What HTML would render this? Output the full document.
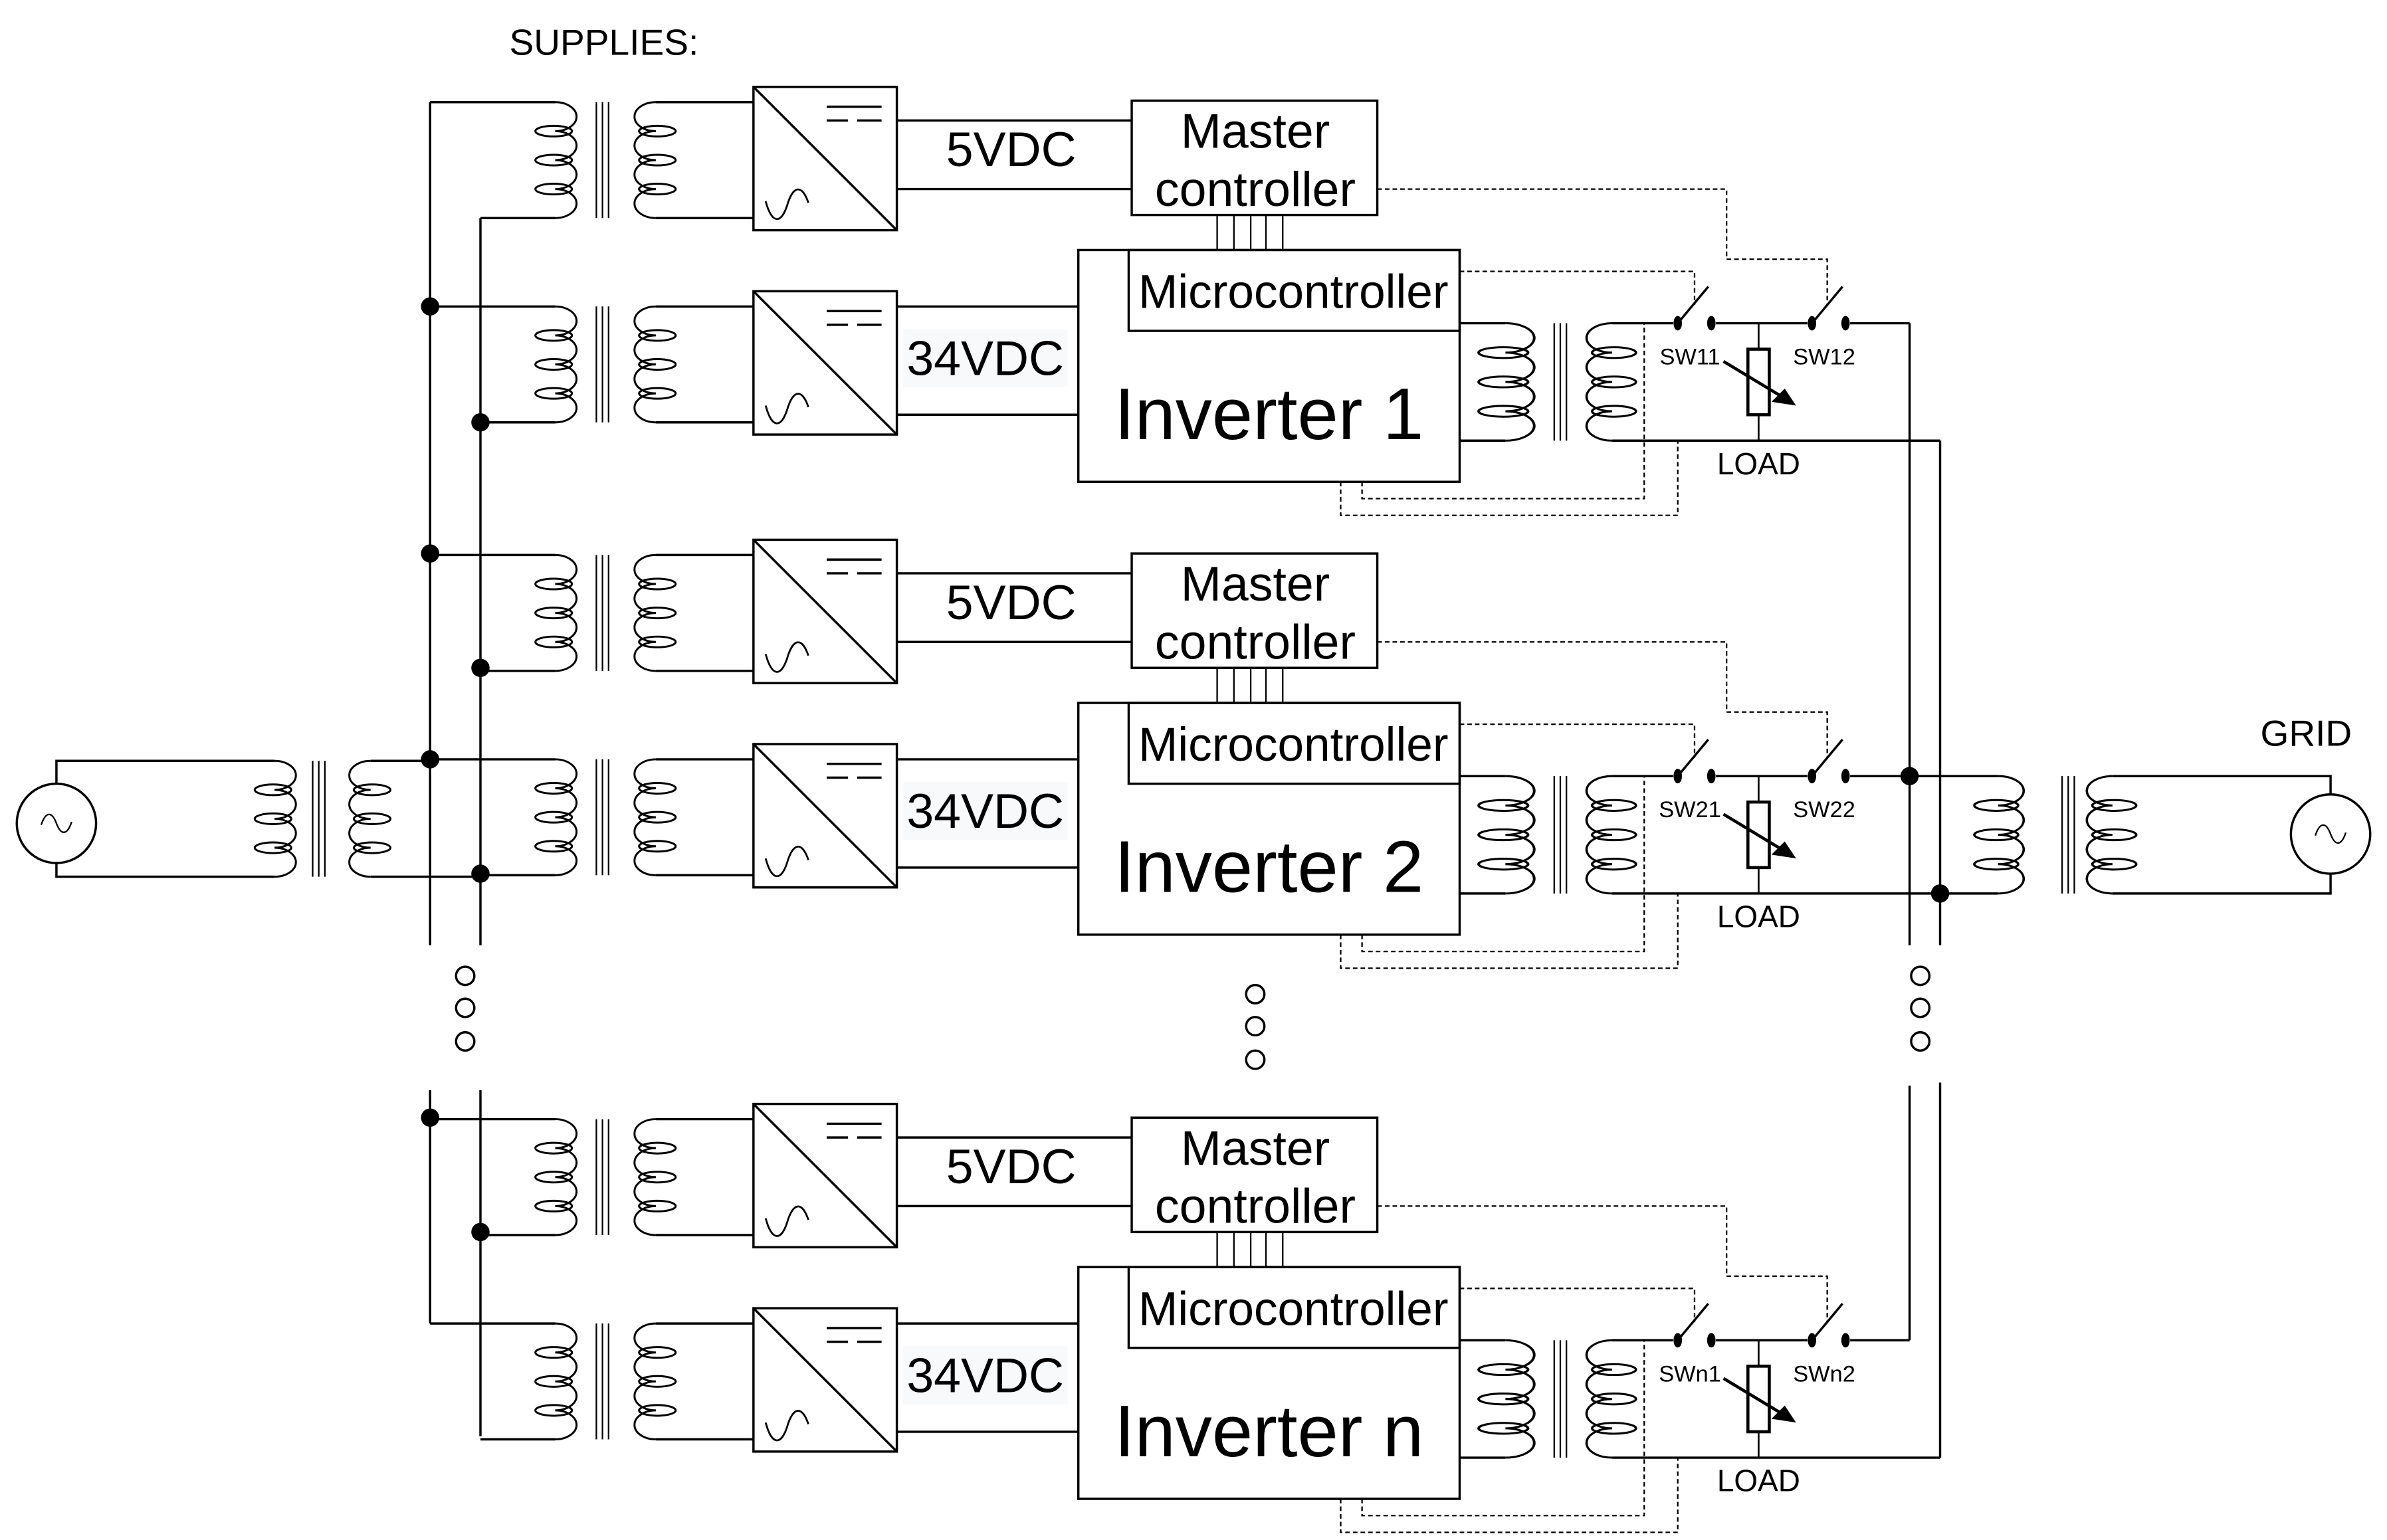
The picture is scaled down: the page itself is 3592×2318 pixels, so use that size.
<!DOCTYPE html>
<html><head><meta charset="utf-8"><style>html,body{margin:0;padding:0;background:#fff}svg{display:block}</style></head>
<body>
<svg width="3592" height="2318" viewBox="0 0 1565 1010" preserveAspectRatio="none" xmlns="http://www.w3.org/2000/svg" font-family="Liberation Sans, sans-serif">
<defs>
<g id="cr" fill="none" stroke="#000" stroke-width="1.3">
<path d="M0,0 a14,9.5 0 0 1 0,19 a14,9.5 0 0 1 0,19 a14,9.5 0 0 1 0,19 a14,9.5 0 0 1 0,19"/>
<ellipse cx="-1" cy="19" rx="12" ry="3.5"/><ellipse cx="-1" cy="38" rx="12" ry="3.5"/><ellipse cx="-1" cy="57" rx="12" ry="3.5"/>
</g>
<g id="cl" fill="none" stroke="#000" stroke-width="1.3">
<path d="M0,0 a14,9.5 0 0 0 0,19 a14,9.5 0 0 0 0,19 a14,9.5 0 0 0 0,19 a14,9.5 0 0 0 0,19"/>
<ellipse cx="1" cy="19" rx="12" ry="3.5"/><ellipse cx="1" cy="38" rx="12" ry="3.5"/><ellipse cx="1" cy="57" rx="12" ry="3.5"/>
</g>
<g id="core" stroke="#000" stroke-width="1"><line x1="0" y1="0" x2="0" y2="76"/><line x1="4" y1="0" x2="4" y2="76"/><line x1="8" y1="0" x2="8" y2="76"/></g>
<g id="conv" fill="none" stroke="#000" stroke-width="1.5">
<rect x="0" y="0" width="94" height="94"/><line x1="0" y1="0" x2="94" y2="94"/>
<line x1="48" y1="13" x2="84" y2="13"/><line x1="48" y1="22" x2="62" y2="22"/><line x1="68" y1="22" x2="84" y2="22"/>
<path d="M8,75 C12,90 18,90 22,78 C26,64 32,64 36,76" stroke-width="1.2"/>
</g>
<g id="supply" fill="none" stroke="#000" stroke-width="1.5">
<line x1="282" y1="0" x2="364" y2="0"/><line x1="315" y1="76" x2="364" y2="76"/>
<use href="#cr" x="364" y="0"/><use href="#core" x="391" y="0"/><use href="#cl" x="430" y="0"/>
<line x1="430" y1="0" x2="494" y2="0"/><line x1="430" y1="76" x2="494" y2="76"/>
<use href="#conv" x="494" y="-10"/>
</g>
<g id="blk" fill="none" stroke="#000" stroke-width="1.5">
<use href="#supply" x="0" y="67"/>
<use href="#supply" x="0" y="201"/>
<line x1="588" y1="79" x2="742" y2="79"/><line x1="588" y1="124" x2="742" y2="124"/>
<line x1="588" y1="201" x2="707" y2="201"/><line x1="588" y1="272" x2="707" y2="272"/>
<rect x="742" y="66" width="161" height="75"/>
<g stroke-width="1"><line x1="798" y1="141" x2="798" y2="164"/><line x1="809" y1="141" x2="809" y2="164"/><line x1="820" y1="141" x2="820" y2="164"/><line x1="830" y1="141" x2="830" y2="164"/><line x1="841" y1="141" x2="841" y2="164"/></g>
<rect x="707" y="164" width="250" height="152"/>
<rect x="740" y="164" width="217" height="53"/>
<line x1="957" y1="212" x2="987" y2="212"/><line x1="957" y1="289" x2="987" y2="289"/>
<use href="#cr" transform="translate(987,212) scale(1.35,1.013)"/>
<use href="#core" transform="translate(1019,212) scale(1,1.013)"/>
<use href="#cl" transform="translate(1057,212) scale(1.2,1.013)"/>
<line x1="1057" y1="212" x2="1097" y2="212"/>
<line x1="1057" y1="289" x2="1272" y2="289"/>
<ellipse cx="1100" cy="212" rx="2" ry="4" fill="#000"/><ellipse cx="1122" cy="212" rx="2" ry="4" fill="#000"/>
<line x1="1100" y1="212" x2="1120" y2="188"/>
<line x1="1125" y1="212" x2="1185" y2="212"/>
<ellipse cx="1188" cy="212" rx="2" ry="4" fill="#000"/><ellipse cx="1210" cy="212" rx="2" ry="4" fill="#000"/>
<line x1="1188" y1="212" x2="1208" y2="188"/>
<line x1="1213" y1="212" x2="1252" y2="212"/>
<line x1="1153" y1="212" x2="1153" y2="289" stroke-width="1.2"/>
<rect x="1146" y="229" width="14" height="43" fill="#fff" stroke-width="2"/>
<line x1="1130" y1="237" x2="1173" y2="263" stroke-width="2"/>
<path d="M1176,265 L1163,263 L1170,256 Z" fill="#000"/>
<g stroke-width="1" stroke-dasharray="3,2">
<path d="M903,124 H1132 V170 H1198 V200"/>
<path d="M957,178 H1111 V200"/>
<path d="M893,316 V327 H1078 V212"/>
<path d="M879,316 V338 H1100 V289"/>
</g>
</g>
</defs>

<g fill="none" stroke="#000" stroke-width="1.5">
<line x1="282" y1="67" x2="282" y2="620"/><line x1="282" y1="715" x2="282" y2="868"/>
<line x1="315" y1="143" x2="315" y2="620"/><line x1="315" y1="715" x2="315" y2="942"/>
<line x1="1252" y1="212" x2="1252" y2="620"/><line x1="1252" y1="712" x2="1252" y2="879"/>
<line x1="1272" y1="289" x2="1272" y2="620"/><line x1="1272" y1="710" x2="1272" y2="956"/>
</g>
<use href="#blk" x="0" y="0"/>
<use href="#blk" x="0" y="297"/>
<use href="#blk" x="0" y="667"/>

<g fill="none" stroke="#000" stroke-width="1.5">
<circle cx="37" cy="540" r="26"/>
<path d="M27,541 C30,532 34,532 37,540 C40,548 44,548 47,539" stroke-width="1"/>
<path d="M37,514 V499 H180"/><path d="M37,566 V575 H180"/>
<use href="#cr" x="180" y="499"/><use href="#core" x="205" y="499"/><use href="#cl" x="243" y="499"/>
<line x1="243" y1="499" x2="282" y2="499"/><line x1="243" y1="575" x2="315" y2="575"/>
<line x1="1252" y1="509" x2="1310" y2="509"/><line x1="1272" y1="586" x2="1310" y2="586"/>
<use href="#cr" transform="translate(1310,509) scale(1.2,1.013)"/><use href="#core" transform="translate(1352,509) scale(1,1.013)"/><use href="#cl" transform="translate(1385,509) scale(1.2,1.013)"/>
<path d="M1385,509 H1528 V521"/><path d="M1385,586 H1528 V573"/>
<circle cx="1528" cy="547" r="26"/>
<path d="M1518,548 C1521,539 1525,539 1528,547 C1531,555 1535,555 1538,546" stroke-width="1"/>
</g>
<g fill="#000">
<circle cx="282" cy="201" r="6"/><circle cx="315" cy="277" r="6"/>
<circle cx="282" cy="363" r="6"/><circle cx="315" cy="438" r="6"/>
<circle cx="282" cy="498" r="6"/><circle cx="315" cy="573" r="6"/>
<circle cx="282" cy="733" r="6"/><circle cx="315" cy="808" r="6"/>
<circle cx="1252" cy="509" r="6"/><circle cx="1272" cy="586" r="6"/>
</g>
<g fill="none" stroke="#000" stroke-width="1.5">
<circle cx="305" cy="640" r="6"/><circle cx="305" cy="661" r="6"/><circle cx="305" cy="683" r="6"/>
<circle cx="823" cy="652" r="6"/><circle cx="823" cy="673" r="6"/><circle cx="823" cy="695" r="6"/>
<circle cx="1259" cy="640" r="6"/><circle cx="1259" cy="661" r="6"/><circle cx="1259" cy="683" r="6"/>
</g>

<g fill="#000" text-anchor="middle">
<text x="396" y="36" font-size="24">SUPPLIES:</text>
<text x="1512" y="489" font-size="24">GRID</text>
<g>
<text x="663" y="109" font-size="32">5VDC</text>
<text x="823" y="97" font-size="32">Master</text>
<text x="823" y="135" font-size="32">controller</text>
<rect x="592" y="216" width="108" height="38" fill="#f8f9fb"/>
<text x="646" y="246" font-size="32">34VDC</text>
<text x="848" y="202" font-size="31">Microcontroller</text>
<text x="1108" y="239" font-size="15">SW11</text><text x="1196" y="239" font-size="15">SW12</text>
<text x="1153" y="311" font-size="20">LOAD</text>
<text x="832" y="288" font-size="48">Inverter 1</text>
</g>
<g transform="translate(0,297)">
<text x="663" y="109" font-size="32">5VDC</text>
<text x="823" y="97" font-size="32">Master</text>
<text x="823" y="135" font-size="32">controller</text>
<rect x="592" y="216" width="108" height="38" fill="#f8f9fb"/>
<text x="646" y="246" font-size="32">34VDC</text>
<text x="848" y="202" font-size="31">Microcontroller</text>
<text x="1108" y="239" font-size="15">SW21</text><text x="1196" y="239" font-size="15">SW22</text>
<text x="1153" y="311" font-size="20">LOAD</text>
<text x="832" y="288" font-size="48">Inverter 2</text>
</g>
<g transform="translate(0,667)">
<text x="663" y="109" font-size="32">5VDC</text>
<text x="823" y="97" font-size="32">Master</text>
<text x="823" y="135" font-size="32">controller</text>
<rect x="592" y="216" width="108" height="38" fill="#f8f9fb"/>
<text x="646" y="246" font-size="32">34VDC</text>
<text x="848" y="202" font-size="31">Microcontroller</text>
<text x="1108" y="239" font-size="15">SWn1</text><text x="1196" y="239" font-size="15">SWn2</text>
<text x="1153" y="311" font-size="20">LOAD</text>
<text x="832" y="288" font-size="48">Inverter n</text>
</g>
</g>
</svg>
</body></html>
